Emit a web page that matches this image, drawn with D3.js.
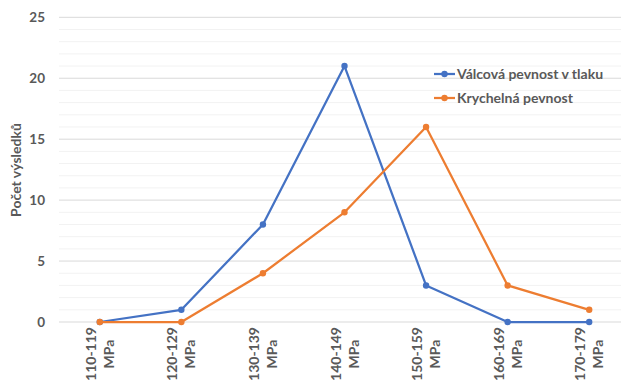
<!DOCTYPE html>
<html><head><meta charset="utf-8">
<script src="https://cdn.jsdelivr.net/npm/d3@7"></script>
<style>body{margin:0;background:#fff;} text{font-family:Lato,"Open Sans",sans-serif;font-weight:bold;fill:#595959;}</style>
</head><body><svg id="c" width="621" height="380"></svg>
<script>
const categories = ["110-119 MPa","120-129 MPa","130-139 MPa","140-149 MPa","150-159 MPa","160-169 MPa","170-179 MPa"];
const valcova = [0,1,8,21,3,0,0];
const krychelna = [0,0,4,9,16,3,1];
const seriesNames = ["Válcová pevnost v tlaku","Krychelná pevnost"];
const colors = ["#4472C4","#ED7D31"];
const yTicks = [0,5,10,15,20,25];
const yTitle = "Počet výsledků";

const svg = d3.select("#c");
const x = d3.scaleBand().domain(categories).range([59,630]);
const y = d3.scaleLinear().domain([0,25]).range([322,17.3]);

// minor grid
svg.append("g").selectAll("line").data(d3.range(0,26).filter(v=>v%5!==0)).join("line")
  .attr("x1",59).attr("x2",621).attr("y1",d=>y(d)).attr("y2",d=>y(d))
  .attr("stroke","#f2f2f2").attr("stroke-width",1);
svg.append("g").selectAll("line").data(yTicks).join("line")
  .attr("x1",59).attr("x2",621).attr("y1",d=>y(d)).attr("y2",d=>y(d))
  .attr("stroke","#d9d9d9").attr("stroke-width",1);

// y tick labels
svg.append("g").selectAll("text").data(yTicks).join("text")
  .attr("x",45).attr("y",d=>y(d)).attr("dy","0.35em").attr("text-anchor","end")
  .attr("font-size",13.5).text(d=>d);

svg.append("text").attr("transform","translate(21,170) rotate(-90)")
  .attr("text-anchor","middle").attr("font-size",14).text(yTitle);

// x labels
const xl = svg.append("g").selectAll("text").data(categories).join("text")
  .attr("transform",d=>`translate(${x(d)+x.bandwidth()/2},354) rotate(-90)`)
  .attr("text-anchor","middle").attr("font-size",14);
xl.append("tspan").attr("x",0).attr("y",-4).text(d=>d.split(" ")[0]);
xl.append("tspan").attr("x",0).attr("y",14).text(d=>d.split(" ")[1]);

const cx = d=>x(d)+x.bandwidth()/2;
[valcova,krychelna].forEach((vals,i)=>{
  const line = d3.line().x((d,j)=>cx(categories[j])).y(d=>y(d));
  svg.append("path").attr("d",line(vals)).attr("fill","none")
    .attr("stroke",colors[i]).attr("stroke-width",2.25).attr("stroke-linejoin","round");
  svg.append("g").selectAll("circle").data(vals).join("circle")
    .attr("cx",(d,j)=>cx(categories[j])).attr("cy",d=>y(d)).attr("r",3.2).attr("fill",colors[i]);
});

// legend
const lg = svg.append("g").selectAll("g").data(seriesNames).join("g")
  .attr("transform",(d,i)=>`translate(434,${74+i*24})`);
lg.append("line").attr("x1",0).attr("x2",21).attr("stroke",(d,i)=>colors[i]).attr("stroke-width",2.25);
lg.append("circle").attr("cx",10.5).attr("r",3.2).attr("fill",(d,i)=>colors[i]);
lg.append("text").attr("x",23).attr("dy","0.35em").attr("font-size",14).text(d=>d);
</script></body></html>
